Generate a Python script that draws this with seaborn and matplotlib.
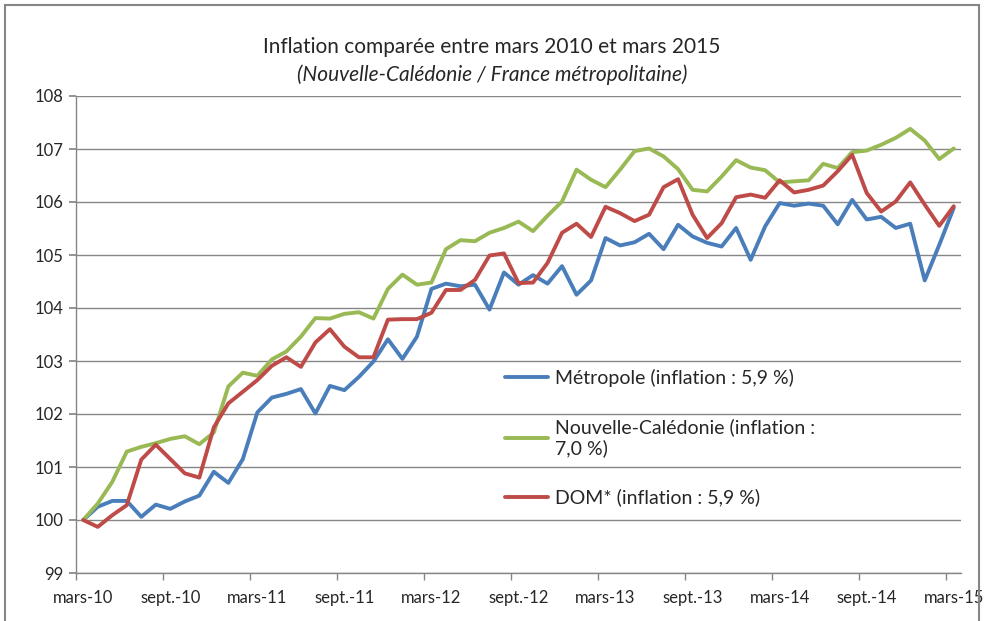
import numpy as np
import pandas as pd
import matplotlib
matplotlib.use("Agg")
import matplotlib.pyplot as plt
import seaborn as sns
from matplotlib.patches import Rectangle

# indices mensuels, base 100 = mars 2010 (61 mois, mars 2010 -> mars 2015)
metropole = [
    100.00, 100.25, 100.36, 100.36, 100.06, 100.29, 100.21, 100.35, 100.46, 100.91,
    100.70, 101.15, 102.03, 102.31, 102.38, 102.47, 102.01, 102.53, 102.45, 102.70,
    102.99, 103.41, 103.04, 103.46, 104.36, 104.46, 104.41, 104.44, 103.97, 104.67,
    104.44, 104.62, 104.46, 104.79, 104.25, 104.52, 105.32, 105.18, 105.24, 105.40,
    105.11, 105.57, 105.35, 105.23, 105.16, 105.51, 104.91, 105.54, 105.98, 105.93,
    105.97, 105.93, 105.58, 106.04, 105.67, 105.72, 105.51, 105.59, 104.52, 105.19,
    105.89,
]
caledonie = [
    100.00, 100.31, 100.72, 101.29, 101.38, 101.45, 101.53, 101.58, 101.43, 101.65,
    102.52, 102.78, 102.72, 103.03, 103.18, 103.46, 103.81, 103.80, 103.89, 103.92,
    103.80, 104.36, 104.63, 104.44, 104.48, 105.11, 105.28, 105.26, 105.42, 105.51,
    105.63, 105.45, 105.74, 106.01, 106.61, 106.42, 106.28, 106.61, 106.96, 107.01,
    106.86, 106.62, 106.23, 106.20, 106.48, 106.79, 106.65, 106.60, 106.37, 106.39,
    106.41, 106.72, 106.64, 106.94, 106.97, 107.08, 107.21, 107.38, 107.16, 106.81,
    107.01,
]
dom = [
    100.00, 99.87, 100.09, 100.28, 101.14, 101.42, 101.15, 100.88, 100.80, 101.75,
    102.20, 102.42, 102.64, 102.91, 103.07, 102.89, 103.35, 103.60, 103.27, 103.07,
    103.07, 103.78, 103.79, 103.79, 103.91, 104.34, 104.34, 104.53, 104.99, 105.03,
    104.47, 104.48, 104.85, 105.42, 105.59, 105.34, 105.91, 105.79, 105.64, 105.76,
    106.28, 106.43, 105.76, 105.32, 105.60, 106.09, 106.14, 106.08, 106.41, 106.18,
    106.23, 106.31, 106.58, 106.89, 106.17, 105.82, 106.01, 106.37, 105.95, 105.55,
    105.92,
]

TICK_LABELS = ["mars-10", "sept.-10", "mars-11", "sept.-11", "mars-12", "sept.-12",
               "mars-13", "sept.-13", "mars-14", "sept.-14", "mars-15"]
SERIES = ["Métropole (inflation : 5,9 %)",
          "Nouvelle-Calédonie (inflation :\n7,0 %)",
          "DOM* (inflation : 5,9 %)"]
COLORS = ["#4A7EBB", "#98B954", "#BE4B48"]
GREY = "#868686"

df = pd.concat([
    pd.DataFrame({"mois": np.arange(len(v)), "indice": v, "serie": s})
    for s, v in zip(SERIES, [metropole, caledonie, dom])
])

sns.set_theme(style="white")
plt.rcParams["font.family"] = ["Lato", "DejaVu Sans"]

fig = plt.figure(figsize=(9.84, 6.21), dpi=100)
ax = fig.add_axes([76 / 984, 1 - 573 / 621, (961 - 76) / 984, (573 - 96) / 621])

sns.lineplot(data=df, x="mois", y="indice", hue="serie", palette=COLORS,
             linewidth=2.8, ax=ax, solid_joinstyle="round")

# axes
ax.set_xlim(-0.5, 60.5)
ax.set_ylim(99, 108)
ax.set_yticks(range(99, 109))
ax.set_xticks(range(0, 61, 6))
ax.set_xticklabels(TICK_LABELS)
ax.set_xticks(np.arange(-0.5, 61, 6), minor=True)
ax.set_xlabel("")
ax.set_ylabel("")
ax.grid(axis="y", color=GREY, linewidth=1)
ax.set_axisbelow(True)
for side in ["top", "right"]:
    ax.spines[side].set_visible(False)
for side in ["left", "bottom"]:
    ax.spines[side].set_color(GREY)
    ax.spines[side].set_linewidth(1)
ax.tick_params(axis="y", length=5, color=GREY, labelsize=12, pad=4, left=True)
ax.tick_params(axis="x", which="major", length=0, labelsize=12, pad=12)
ax.tick_params(axis="x", which="minor", length=5, color=GREY, bottom=True)

handles, labels = ax.get_legend_handles_labels()
ax.legend(handles, labels, loc="upper left", bbox_to_anchor=(497 / 984, 1 - 361 / 621),
          bbox_transform=fig.transFigure, frameon=False, fontsize=14,
          handlelength=2.2, handletextpad=0.36, labelspacing=1.62, borderaxespad=0)

fig.text(492 / 984, 1 - 47 / 621, "Inflation comparée entre mars 2010 et mars 2015",
         ha="center", va="center", fontsize=15)
fig.text(492 / 984, 1 - 75 / 621, "(Nouvelle-Calédonie / France métropolitaine)",
         ha="center", va="center", fontsize=15, style="italic")

# cadre du graphique
fig.add_artist(Rectangle((5 / 984, -0.02), 974 / 984, 1 - 5 / 621 + 0.02,
                         transform=fig.transFigure, fill=False, edgecolor=GREY, lw=1.5))

fig.savefig("out.png", dpi=100)
